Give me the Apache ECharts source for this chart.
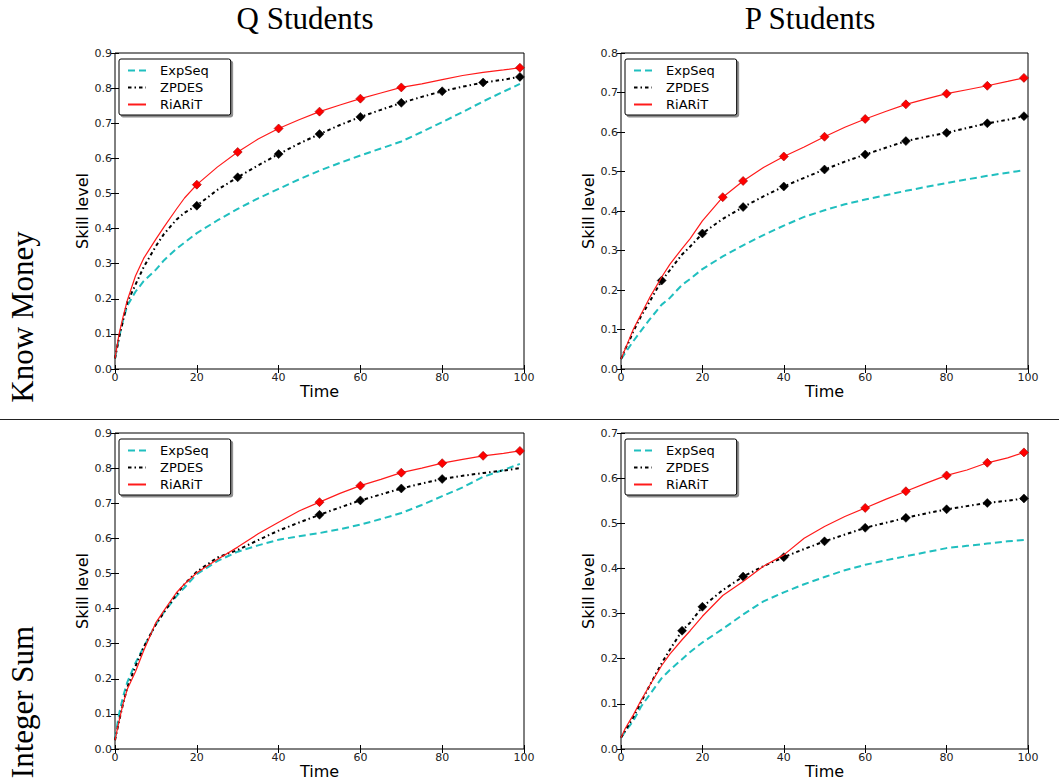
<!DOCTYPE html>
<html><head><meta charset="utf-8">
<script src="https://cdn.jsdelivr.net/npm/echarts@6/dist/echarts.min.js"></script>
<style>html,body{margin:0;padding:0;background:#fff}#c{width:1059px;height:782px}</style>
</head><body><div id="c"></div>
<script>
// ---- data ----
const T = [0,1,2,3,5,7,10,12,15,17,20,25,30,35,40,45,50,55,60,65,70,75,80,85,90,95,99];
const columnTitles = ['Q Students','P Students'];
const rowTitles = ['Know Money','Integer Sum'];
const seriesNames = ['ExpSeq','ZPDES','RiARiT'];
const xTicks = [0,20,40,60,80,100];
const yMaxes = [0.9,0.8,0.9,0.7];

// Q Students / Know Money
const qkExp = [0.03,0.09,0.14,0.18,0.22,0.25,0.283,0.31,0.342,0.36,0.387,0.423,0.456,0.486,0.513,0.54,0.565,0.587,0.608,0.628,0.648,0.675,0.703,0.732,0.762,0.79,0.812];
const qkZp  = [0.03,0.09,0.14,0.19,0.24,0.29,0.35,0.385,0.425,0.445,0.465,0.51,0.546,0.58,0.612,0.642,0.669,0.695,0.718,0.738,0.758,0.775,0.791,0.804,0.816,0.824,0.832];
const qkRia = [0.03,0.10,0.15,0.195,0.265,0.315,0.37,0.405,0.455,0.487,0.525,0.575,0.618,0.655,0.685,0.71,0.733,0.752,0.770,0.786,0.802,0.812,0.824,0.836,0.845,0.852,0.858];
const qkZpMarks  = [20,30,40,50,60,70,80,90,99];
const qkRiaMarks = [20,30,40,50,60,70,99];

// P Students / Know Money
const pkExp = [0.025,0.04,0.055,0.07,0.098,0.125,0.163,0.18,0.213,0.228,0.253,0.285,0.313,0.339,0.363,0.385,0.402,0.417,0.429,0.44,0.451,0.461,0.471,0.48,0.489,0.497,0.503];
const pkZp  = [0.025,0.05,0.07,0.095,0.135,0.17,0.224,0.25,0.29,0.31,0.343,0.38,0.41,0.437,0.462,0.484,0.505,0.525,0.543,0.56,0.577,0.588,0.598,0.61,0.622,0.631,0.640];
const pkRia = [0.025,0.05,0.075,0.10,0.14,0.18,0.233,0.265,0.305,0.33,0.375,0.435,0.476,0.51,0.538,0.562,0.588,0.612,0.633,0.652,0.670,0.684,0.697,0.707,0.717,0.728,0.737];
const pkZpMarks  = [10,20,30,40,50,60,70,80,90,99];
const pkRiaMarks = [25,30,40,50,60,70,80,90,99];

// Q Students / Integer Sum
const qsExp = [0.03,0.10,0.15,0.19,0.245,0.29,0.355,0.39,0.435,0.46,0.498,0.535,0.562,0.58,0.596,0.606,0.615,0.626,0.639,0.655,0.672,0.695,0.72,0.745,0.775,0.795,0.812];
const qsZp  = [0.025,0.08,0.13,0.175,0.235,0.29,0.355,0.39,0.44,0.47,0.505,0.545,0.567,0.595,0.622,0.645,0.667,0.688,0.708,0.725,0.742,0.756,0.769,0.778,0.786,0.793,0.80];
const qsRia = [0.025,0.08,0.13,0.17,0.22,0.28,0.36,0.395,0.445,0.47,0.502,0.54,0.575,0.613,0.646,0.678,0.703,0.728,0.750,0.768,0.787,0.80,0.814,0.825,0.835,0.842,0.849];
const qsZpMarks  = [50,60,70,80];
const qsRiaMarks = [50,60,70,80,90,99];

// P Students / Integer Sum
const psExp = [0.025,0.038,0.05,0.062,0.095,0.12,0.157,0.175,0.199,0.215,0.236,0.266,0.298,0.327,0.347,0.365,0.381,0.396,0.408,0.418,0.427,0.436,0.445,0.45,0.455,0.46,0.463];
const psZp  = [0.025,0.04,0.055,0.07,0.105,0.14,0.19,0.22,0.262,0.28,0.315,0.352,0.382,0.405,0.425,0.443,0.46,0.475,0.49,0.501,0.512,0.522,0.531,0.538,0.545,0.55,0.555];
const psRia = [0.025,0.045,0.06,0.075,0.109,0.14,0.185,0.21,0.242,0.262,0.294,0.34,0.371,0.405,0.43,0.467,0.493,0.515,0.534,0.553,0.571,0.589,0.606,0.618,0.634,0.645,0.657];
const psZpMarks  = [15,20,30,40,50,60,70,80,90,99];
const psRiaMarks = [60,70,80,90,99];

// ---- build ----
const panels = [
  {exp: qkExp, zp: qkZp, ria: qkRia, zpM: qkZpMarks, riaM: qkRiaMarks},
  {exp: pkExp, zp: pkZp, ria: pkRia, zpM: pkZpMarks, riaM: pkRiaMarks},
  {exp: qsExp, zp: qsZp, ria: qsRia, zpM: qsZpMarks, riaM: qsRiaMarks},
  {exp: psExp, zp: psZp, ria: psRia, zpM: psZpMarks, riaM: psRiaMarks}
];
const gridPos = [
  {left:115, top:53, width:409, height:316},
  {left:621, top:53, width:407, height:316},
  {left:115, top:433, width:409, height:316},
  {left:621, top:433, width:407, height:316}
];
const COL_EXP = '#20bfbf', COL_ZP = '#000000', COL_RIA = '#ff1a1a';
const FONT = 'DejaVu Sans';

const pts = (arr) => T.map((t, k) => [t, arr[k]]);
const marks = (arr, times) => times.map(t => [t, arr[T.indexOf(t)]]);

const grids = [], xAxes = [], yAxes = [], series = [], legends = [];
gridPos.forEach((g, i) => {
  grids.push(Object.assign({show:true, borderColor:'#000', borderWidth:1, backgroundColor:'transparent', containLabel:false}, g));
  const tick = {show:true, inside:true, length:4, lineStyle:{color:'#000', width:1}};
  xAxes.push({type:'value', gridIndex:i, min:0, max:100, interval:20, position:'bottom',
    name:'Time', nameLocation:'middle', nameGap:13, nameTextStyle:{fontSize:16, color:'#000', fontFamily:FONT},
    axisLine:{show:false}, axisTick:tick, splitLine:{show:false},
    axisLabel:{fontSize:11, color:'#222', fontFamily:FONT, margin:3}});
  yAxes.push({type:'value', gridIndex:i, min:0, max:yMaxes[i], interval:0.1, position:'left',
    name:'Skill level', nameLocation:'middle', nameGap:24, nameTextStyle:{fontSize:16, color:'#000', fontFamily:FONT},
    axisLine:{show:false}, axisTick:tick, splitLine:{show:false},
    axisLabel:{fontSize:11, color:'#222', fontFamily:FONT, margin:3, formatter:v => v.toFixed(1)}});
  const p = panels[i];
  series.push({name:'ExpSeq', type:'line', xAxisIndex:i, yAxisIndex:i, data:pts(p.exp), symbol:'none', z:2,
    lineStyle:{color:COL_EXP, width:2, type:[7,4]}, itemStyle:{color:COL_EXP}});
  series.push({name:'ZPDES', type:'line', xAxisIndex:i, yAxisIndex:i, data:pts(p.zp), symbol:'none', z:3,
    lineStyle:{color:COL_ZP, width:2, type:[3.5,3,1.5,3]}, itemStyle:{color:COL_ZP}});
  series.push({name:'ZPDES marks', type:'scatter', xAxisIndex:i, yAxisIndex:i, data:marks(p.zp, p.zpM), z:4,
    symbol:'diamond', symbolSize:[9,9], itemStyle:{color:'#000', borderColor:'#000', borderWidth:0.5, opacity:1}});
  series.push({name:'RiARiT', type:'line', xAxisIndex:i, yAxisIndex:i, data:pts(p.ria), symbol:'none', z:5,
    lineStyle:{color:COL_RIA, width:1.2, type:'solid'}, itemStyle:{color:COL_RIA}});
  series.push({name:'RiARiT marks', type:'scatter', xAxisIndex:i, yAxisIndex:i, data:marks(p.ria, p.riaM), z:6,
    symbol:'diamond', symbolSize:[9,9], itemStyle:{color:'#ff0000', borderColor:'#a00000', borderWidth:0.6, opacity:1}});
  legends.push({orient:'vertical', left:g.left + 4, top:g.top + 6, padding:[5,22,4,8], itemGap:4,
    itemWidth:18, itemHeight:14, backgroundColor:'#fff', borderColor:'#000', borderWidth:1, borderRadius:2,
    shadowColor:'rgba(0,0,0,0.45)', shadowBlur:0, shadowOffsetX:2, shadowOffsetY:2, selectedMode:false,
    itemStyle:{opacity:0, borderWidth:0},
    textStyle:{fontSize:13, color:'#000', fontFamily:FONT, padding:[0,0,0,9]},
    data:seriesNames.map(n => ({name:n, itemStyle:{opacity:0, borderWidth:0}}))});
});
// top and right tick marks (box ticks)
gridPos.forEach((g, i) => {
  const tick = {show:true, inside:true, length:4, lineStyle:{color:'#000', width:1}};
  xAxes.push({type:'value', gridIndex:i, min:0, max:100, interval:20, position:'top',
    axisLine:{show:false}, axisTick:tick, axisLabel:{show:false}, splitLine:{show:false}});
  yAxes.push({type:'value', gridIndex:i, min:0, max:yMaxes[i], interval:0.1, position:'right',
    axisLine:{show:false}, axisTick:tick, axisLabel:{show:false}, splitLine:{show:false}});
});

const serif = 'Liberation Serif';
const graphics = [
  {type:'text', x:305, y:18, style:{text:columnTitles[0], fontSize:31, fontFamily:serif, fill:'#000', align:'center', verticalAlign:'middle'}},
  {type:'text', x:810, y:18, style:{text:columnTitles[1], fontSize:31, fontFamily:serif, fill:'#000', align:'center', verticalAlign:'middle'}},
  {type:'text', x:22, y:317, rotation:Math.PI/2, style:{text:rowTitles[0], fontSize:31, fontFamily:serif, fill:'#000', align:'center', verticalAlign:'middle'}},
  {type:'text', x:22, y:702, rotation:Math.PI/2, style:{text:rowTitles[1], fontSize:31, fontFamily:serif, fill:'#000', align:'center', verticalAlign:'middle'}},
  {type:'line', shape:{x1:0, y1:419.5, x2:1059, y2:419.5}, style:{stroke:'#222', lineWidth:1}}
];

const chart = echarts.init(document.getElementById('c'), null, {renderer:'svg'});
chart.setOption({
  animation:false,
  backgroundColor:'#fff',
  grid:grids, xAxis:xAxes, yAxis:yAxes, series:series, legend:legends, graphic:graphics
});
</script>
</body></html>
